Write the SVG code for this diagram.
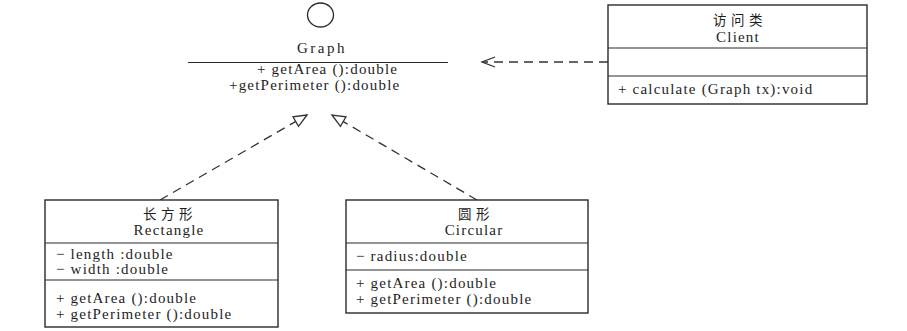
<svg xmlns="http://www.w3.org/2000/svg" width="907" height="331" viewBox="0 0 907 331">
<style>
  .box { fill: #fff; stroke: #2a2a2a; stroke-width: 1.4; }
  .sep { stroke: #2a2a2a; stroke-width: 1.2; }
  .t { font-family: "Liberation Serif", "Times New Roman", serif; font-size: 15px; letter-spacing: 1.2px; fill: #1e1e1e; }
  .c { font-family: "Noto Sans CJK SC", "Liberation Serif", serif; font-size: 13.5px; letter-spacing: 4.5px; fill: #1e1e1e; }
  .mid { text-anchor: middle; }
  .dash { fill: none; stroke: #333; stroke-width: 1.3; stroke-dasharray: 9 6; }
</style>
<defs>
  <marker id="hollow" markerUnits="userSpaceOnUse" viewBox="-15 -8 17 16" refX="0" refY="0" markerWidth="17" markerHeight="16" orient="auto" overflow="visible">
    <path d="M0,0 L-13,-5.5 L-13,5.5 Z" fill="#fff" stroke="#333" stroke-width="1.3" stroke-dasharray="none"/>
  </marker>
  <marker id="open" markerUnits="userSpaceOnUse" viewBox="-15 -8 17 16" refX="0" refY="0" markerWidth="17" markerHeight="16" orient="auto" overflow="visible">
    <path d="M-13,-5 L0,0 L-13,5" fill="none" stroke="#333" stroke-width="1.3" stroke-dasharray="none"/>
  </marker>
</defs>
<rect width="907" height="331" fill="#fff"/>

<g id="connectors">
  <line class="dash" x1="608" y1="62" x2="482" y2="62" marker-end="url(#open)"/>
  <line class="dash" x1="160" y1="200" x2="307" y2="115" marker-end="url(#hollow)"/>
  <line class="dash" x1="477" y1="200" x2="332" y2="115" marker-end="url(#hollow)"/>
</g>

<g id="graph">
  <ellipse cx="320.5" cy="15" rx="13" ry="12" fill="none" stroke="#2a2a2a" stroke-width="1.3"/>
  <text class="t mid" x="322" y="53" style="letter-spacing:2.5px">Graph</text>
  <line class="sep" x1="188" y1="62.5" x2="448" y2="62.5"/>
  <text class="t" x="257" y="74">+ getArea ():double</text>
  <text class="t" x="229" y="90">+getPerimeter ():double</text>
</g>

<g id="client">
  <rect class="box" x="608" y="5" width="259" height="99"/>
  <text class="c mid" x="740" y="25">访问类</text>
  <text class="t mid" x="738" y="41.5">Client</text>
  <line class="sep" x1="608" y1="48" x2="867" y2="48"/>
  <line class="sep" x1="608" y1="76" x2="867" y2="76"/>
  <text class="t" x="618" y="94">+ calculate (Graph tx):void</text>
</g>

<g id="rectangle">
  <rect class="box" x="45" y="200" width="233" height="127"/>
  <text class="c mid" x="170" y="219">长方形</text>
  <text class="t mid" x="169" y="234.5">Rectangle</text>
  <line class="sep" x1="45" y1="243" x2="278" y2="243"/>
  <text class="t" x="56" y="259">− length :double</text>
  <text class="t" x="56" y="274">− width :double</text>
  <line class="sep" x1="45" y1="280" x2="278" y2="280"/>
  <text class="t" x="56" y="303">+ getArea ():double</text>
  <text class="t" x="56" y="319">+ getPerimeter ():double</text>
</g>

<g id="circular">
  <rect class="box" x="346" y="200" width="242" height="113"/>
  <text class="c mid" x="476" y="219">圆形</text>
  <text class="t mid" x="474" y="234.5">Circular</text>
  <line class="sep" x1="346" y1="243" x2="588" y2="243"/>
  <text class="t" x="356" y="261">− radius:double</text>
  <line class="sep" x1="346" y1="270" x2="588" y2="270"/>
  <text class="t" x="356" y="288">+ getArea ():double</text>
  <text class="t" x="356" y="304">+ getPerimeter ():double</text>
</g>
</svg>
